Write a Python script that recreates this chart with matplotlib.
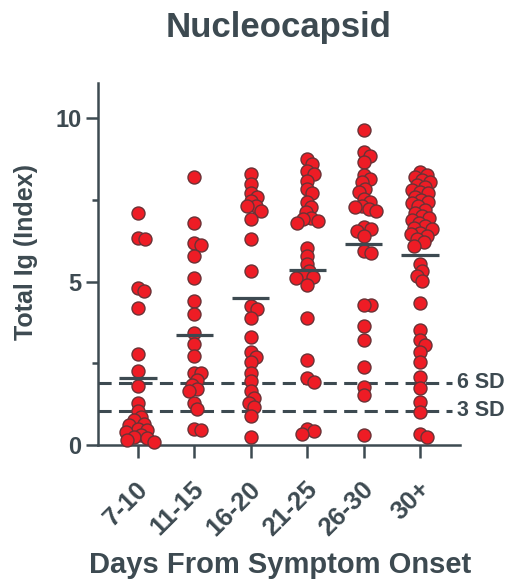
import numpy as np
import matplotlib
matplotlib.use("Agg")
import matplotlib.pyplot as plt
from matplotlib.transforms import ScaledTranslation

# ---------------- data ----------------
categories = ["7-10", "11-15", "16-20", "21-25", "26-30", "30+"]

d_7_10 = [7.1, 6.35, 6.3, 4.8, 4.7, 4.2, 2.8, 2.25, 1.8, 1.3, 1.05,
          0.85, 0.75, 0.65, 0.6, 0.5, 0.45, 0.4, 0.3, 0.25, 0.2, 0.15, 0.1]
d_11_15 = [8.19, 6.81, 6.19, 6.12, 5.78, 5.12, 4.42, 4.01, 3.43, 3.09, 2.71,
           2.2, 2.2, 2.0, 1.85, 1.7, 1.65, 1.3, 1.1, 0.5, 0.46]
d_16_20 = [8.30, 7.99, 7.70, 7.60, 7.48, 7.32, 7.30, 7.17, 6.91, 6.30,
           5.32, 4.25, 4.15, 3.89, 3.32, 2.85, 2.7, 2.55, 2.2, 1.95, 1.65,
           1.45, 1.3, 1.15, 0.9, 0.25]
d_21_25 = [8.76, 8.60, 8.40, 8.30, 8.09, 7.85, 7.70, 7.45, 7.27, 7.12, 6.96,
           6.92, 6.85, 6.81, 6.04, 5.78, 5.53, 5.32, 5.2, 5.15, 5.1, 4.91,
           3.89, 2.60, 2.04, 1.94, 0.50, 0.42, 0.35]
d_26_30 = [9.63, 8.96, 8.86, 8.66, 8.25, 8.14, 8.04, 7.84, 7.73, 7.53, 7.43,
           7.32, 7.27, 7.22, 7.17, 6.66, 6.61, 6.55, 6.40, 5.94, 5.89, 4.30,
           4.30, 3.63, 3.22, 2.40, 1.78, 1.53, 0.30]
d_30p = [8.35, 8.25, 8.2, 8.1, 8.05, 7.95, 7.9, 7.8, 7.75, 7.7, 7.6, 7.5,
         7.45, 7.4, 7.3, 7.2, 7.1, 7.0, 6.95, 6.9, 6.8, 6.7, 6.65, 6.6, 6.5,
         6.45, 6.4, 6.3, 6.2, 6.1, 5.53, 5.32, 5.17, 5.02, 4.35, 3.53, 3.22,
         3.07, 2.86, 2.55, 2.09, 1.73, 1.32, 1.02, 0.35, 0.25]
groups = [d_7_10, d_11_15, d_16_20, d_21_25, d_26_30, d_30p]

means = [2.05, 3.37, 4.5, 5.37, 6.15, 5.82]
sd_levels = [1.9, 1.05]
sd_labels = ["6 SD", "3 SD"]
yticks = [0, 5, 10]

# ---------------- style ----------------
W, H, DPI = 514, 582, 100
txt = "#3d4a51"
face = "#ee1c25"
edge = "#6a3236"
font = "Liberation Sans"

fig = plt.figure(figsize=(W / DPI, H / DPI), dpi=DPI)
left, right, bottom, top = 98, 460, 445, 83
ax = fig.add_axes([left / W, 1 - bottom / H, (right - left) / W, (bottom - top) / H])

xmin, xmax = -0.709, 5.709
ymin, ymax = 0.0, 11.08
ax.set_xlim(xmin, xmax)
ax.set_ylim(ymin, ymax)

# pixel scales
px_x = (right - left) / (xmax - xmin)
px_y = (bottom - top) / (ymax - ymin)

diam = 13.0  # marker diameter in px
dmin = 7.0   # allowed center distance (heavy overlap like the original)


def swarm(vals):
    order = np.argsort(vals)[::-1]
    placed = []
    offs = np.zeros(len(vals))
    step = 0.5
    for i in order:
        y = vals[i] * px_y
        cands = [0.0]
        for k in range(1, 80):
            cands += [k * step, -k * step]
        for c in cands:
            ok = True
            for (px, py) in placed:
                if (px - c) ** 2 + (py - y) ** 2 < dmin ** 2:
                    ok = False
                    break
            if ok:
                offs[i] = c
                placed.append((c, y))
                break
    return offs / px_x


ms = (diam * 72 / DPI) ** 2
for gi, vals in enumerate(groups):
    vals = np.asarray(vals, dtype=float)
    xo = swarm(vals)
    ax.scatter(gi + xo, vals, s=ms, facecolor=face, edgecolor=edge,
               linewidth=1.0, zorder=3, clip_on=False)

# mean lines
for gi, m in enumerate(means):
    ax.plot([gi - 0.33, gi + 0.33], [m, m], color=txt, lw=2.3,
            solid_capstyle="butt", zorder=4)

# SD dashed lines
for lvl, lab in zip(sd_levels, sd_labels):
    ax.plot([xmin, 5.57], [lvl, lvl], color=txt, lw=2.2,
            dashes=(4.3, 2.4), zorder=2, clip_on=False)
    ax.text(5.66, lvl, lab, color=txt, fontsize=15.5, fontweight="bold",
            family=font, va="center", ha="left", clip_on=False)

# spines
for s in ["top", "right"]:
    ax.spines[s].set_visible(False)
for s in ["left", "bottom"]:
    ax.spines[s].set_color(txt)
    ax.spines[s].set_linewidth(1.8)

ax.set_yticks(yticks)
ax.set_yticks([2.5, 7.5], minor=True)
ax.set_yticklabels([str(t) for t in yticks])
ax.set_xticks(range(len(categories)))
ax.set_xticklabels(categories)

ax.tick_params(axis="y", which="major", length=9, width=1.8, color=txt,
               labelcolor=txt, labelsize=17, pad=3)
ax.tick_params(axis="y", which="minor", length=4, width=1.8, color=txt)
ax.tick_params(axis="x", which="major", length=9, width=1.8, color=txt,
               labelcolor=txt, labelsize=18.5, pad=20)
for lbl in ax.get_yticklabels():
    lbl.set_fontweight("bold")
    lbl.set_family(font)
shift = ScaledTranslation(6 / DPI, 0, fig.dpi_scale_trans)
for lbl in ax.get_xticklabels():
    lbl.set_fontweight("bold")
    lbl.set_family(font)
    lbl.set_rotation(45)
    lbl.set_rotation_mode("anchor")
    lbl.set_ha("right")
    lbl.set_va("center")
    lbl.set_transform(lbl.get_transform() + shift)

fig.text(279 / W, 1 - 37 / H, "Nucleocapsid", ha="center", va="baseline",
         fontsize=25, fontweight="bold", color=txt, family=font)
fig.text(280 / W, 1 - 573 / H, "Days From Symptom Onset", ha="center",
         va="baseline", fontsize=21, fontweight="bold", color=txt, family=font)
fig.text(26 / W, 1 - 252 / H, "Total Ig (Index)", ha="center", va="center",
         rotation=90, fontsize=18, fontweight="bold", color=txt, family=font)

fig.savefig("out.png", dpi=DPI)
